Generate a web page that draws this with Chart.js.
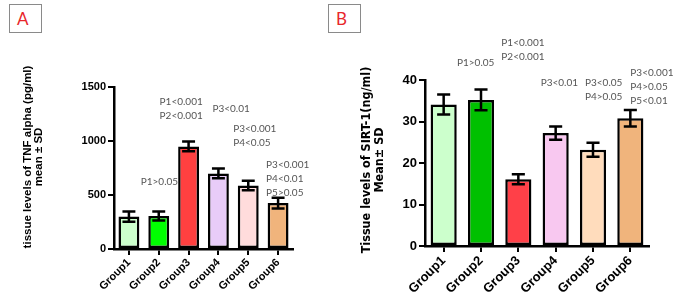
<!DOCTYPE html>
<html lang="en">

<head>
    <meta charset="UTF-8">
    <title>TNF alpha / SIRT-1</title>
    <script src="https://cdn.jsdelivr.net/npm/chart.js@4.4.1/dist/chart.umd.min.js"></script>
    <style>
        body { margin: 0; background: #fff; width: 678px; height: 304px; position: relative; overflow: hidden; }
        .tag { position: absolute; top: 4px; width: 24px; height: 27px; border: 1px solid #8a8a8a;
               color: #e8262b; font: 17px Lato, sans-serif; line-height: 27px; padding-left: 7px; box-sizing: content-box; }
        .box { position: absolute; top: 0; height: 304px; }
    </style>
</head>

<body>
    <div class="tag" style="left:9px">A</div>
    <div class="tag" style="left:328px">B</div>
    <div class="box" style="left:0;width:340px"><canvas id="chartA"></canvas></div>
    <div class="box" style="left:340px;width:338px"><canvas id="chartB"></canvas></div>
    <script>
        const groups = ["Group1", "Group2", "Group3", "Group4", "Group5", "Group6"]

        // panel A: TNF alpha (pg/ml)
        const tnfMean = [300, 305, 950, 700, 588, 425]
        const tnfSd = [48, 42, 45, 45, 45, 50]
        const tnfTicks = [0, 500, 1000, 1500]

        // panel B: SIRT-1 (ng/ml)
        const sirtMean = [34.1, 35.2, 16.1, 27.2, 23.2, 30.8]
        const sirtSd = [2.4, 2.5, 1.2, 1.6, 1.7, 2.0]
        const sirtTicks = [0, 10, 20, 30, 40]

        // p-value notes: group index, y value of the first line, text lines
        const tnfNotes = [
            { at: 1, y: 620, lines: ["P1>0.05"] },
            { at: 2, y: 1361, lines: ["P1<0.001", "P2<0.001"] },
            { at: 3, y: 1296, lines: ["P3<0.01"] },
            { at: 4, y: 1111, lines: ["P3<0.001", "P4<0.05"] },
            { at: 5, y: 778, lines: ["P3<0.001", "P4<0.01", "P5>0.05"] },
        ]
        const sirtNotes = [
            { at: 1, y: 44.1, lines: ["P1>0.05"] },
            { at: 2, y: 48.9, lines: ["P1<0.001", "P2<0.001"] },
            { at: 3, y: 39.3, lines: ["P3<0.01"] },
            { at: 4, y: 39.3, lines: ["P3<0.05", "P4>0.05"] },
            { at: 5, y: 41.7, lines: ["P3<0.001", "P4>0.05", "P5<0.01"] },
        ]

        const colorsA = ["#ccffcc", "#00ff00", "#ff4040", "#e8ccf8", "#ffdcdc", "#f0b47c"]
        const colorsB = ["#ccffcc", "#00c000", "#ff4048", "#f8c8f0", "#ffdcbc", "#f0b47c"]

        // draws mean +- sd whiskers and the p-value text
        const extras = {
            id: 'extras',
            afterDatasetsDraw(chart, args, opts) {
                const ctx = chart.ctx
                const ys = chart.scales.y
                const xs = chart.scales.x
                const meta = chart.getDatasetMeta(0)
                ctx.save()
                ctx.strokeStyle = '#000'
                ctx.lineWidth = 2.5
                meta.data.forEach((bar, i) => {
                    const m = opts.mean[i], s = opts.sd[i]
                    const top = ys.getPixelForValue(m + s)
                    const bot = ys.getPixelForValue(m - s)
                    const half = bar.width * opts.cap / 2
                    ctx.beginPath()
                    ctx.moveTo(bar.x, top); ctx.lineTo(bar.x, bot)
                    ctx.moveTo(bar.x - half, top); ctx.lineTo(bar.x + half, top)
                    ctx.moveTo(bar.x - half, bot); ctx.lineTo(bar.x + half, bot)
                    ctx.stroke()
                })
                ctx.fillStyle = '#555'
                ctx.font = '10px Lato, sans-serif'
                ctx.textAlign = 'left'
                ctx.textBaseline = 'middle'
                opts.notes.forEach((n, k) => {
                    const x = xs.getPixelForValue(n.at) + opts.dx[k]
                    const y0 = ys.getPixelForValue(n.y)
                    n.lines.forEach((t, j) => ctx.fillText(t, x, y0 + j * 14))
                })
                // y title
                ctx.fillStyle = '#000'
                ctx.font = opts.titleFont
                ctx.textAlign = 'center'
                opts.title.forEach((t, j) => {
                    ctx.save()
                    ctx.translate(opts.titleX[j], opts.titleY)
                    ctx.rotate(-Math.PI / 2)
                    ctx.fillText(t, 0, 0)
                    ctx.restore()
                })
                ctx.restore()
            }
        }

        function makeChart(id, mean, sd, colors, ticks, notes, cfg) {
            return new Chart(document.getElementById(id), {
                type: 'bar',
                data: {
                    labels: groups,
                    datasets: [{
                        data: mean,
                        backgroundColor: colors,
                        borderColor: '#000',
                        borderWidth: 2.5,
                        borderSkipped: false,
                        categoryPercentage: 1,
                        barPercentage: 0.7,
                    }]
                },
                options: {
                    responsive: false,
                    animation: false,
                    devicePixelRatio: 1,
                    layout: { padding: cfg.pad },
                    plugins: {
                        legend: { display: false },
                        tooltip: { enabled: false },
                        extras: {
                            mean: mean, sd: sd, notes: notes, dx: cfg.dx, cap: cfg.cap,
                            title: cfg.title, titleX: cfg.titleX, titleY: cfg.titleY, titleFont: cfg.titleFont,
                        },
                    },
                    scales: {
                        x: {
                            afterFit: (s) => { s.height = cfg.xh },
                            border: { color: '#000', width: 2.5 },
                            grid: { drawOnChartArea: false, offset: false, color: '#000', lineWidth: 2, tickLength: 6 },
                            ticks: {
                                color: '#000', maxRotation: 45, minRotation: 45, padding: 1,
                                font: { family: 'Liberation Sans', weight: 'bold', size: cfg.fs },
                            },
                        },
                        y: {
                            min: 0,
                            max: ticks[ticks.length - 1],
                            afterFit: (s) => { s.width = cfg.yw },
                            afterBuildTicks: (s) => { s.ticks = ticks.map(v => ({ value: v })) },
                            border: { color: '#000', width: 2.5 },
                            grid: { drawOnChartArea: false, color: '#000', lineWidth: 2, tickLength: 6 },
                            ticks: {
                                color: '#000', padding: 2,
                                callback: (v) => String(v),
                                font: { family: 'Liberation Sans', weight: 'bold', size: cfg.fs },
                            },
                        },
                    },
                },
                plugins: [extras],
            })
        }

        function sizeCanvas(id, w, h) {
            const c = document.getElementById(id)
            c.width = w; c.height = h
            c.style.width = w + 'px'; c.style.height = h + 'px'
        }

        sizeCanvas('chartA', 340, 304)
        sizeCanvas('chartB', 338, 304)

        makeChart('chartA', tnfMean, tnfSd, colorsA, tnfTicks, tnfNotes, {
            pad: { left: 0, right: 47, top: 87, bottom: 0 },
            yw: 114, xh: 55, fs: 11, cap: 0.62,
            dx: [-18, -29, -6, -15, -12],
            title: ["tissue levels of TNF alpha (pg/ml)", "mean \u00b1 SD"],
            titleX: [28, 39], titleY: 157,
            titleFont: 'bold 11.5px "Liberation Sans", Arial, sans-serif',
        })

        makeChart('chartB', sirtMean, sirtSd, colorsB, sirtTicks, sirtNotes, {
            pad: { left: 0, right: 29, top: 80, bottom: 0 },
            yw: 85, xh: 58, fs: 13, cap: 0.5,
            dx: [-24, -17, -15, -8, 0],
            title: ["Tissue levels of SIRT-1(ng/ml)", "Mean\u00b1 SD"],
            titleX: [27, 40], titleY: 160,
            titleFont: 'bold 12.5px "Liberation Sans Narrow", "DejaVu Sans Condensed", Arial, sans-serif',
        })
    </script>
</body>

</html>
